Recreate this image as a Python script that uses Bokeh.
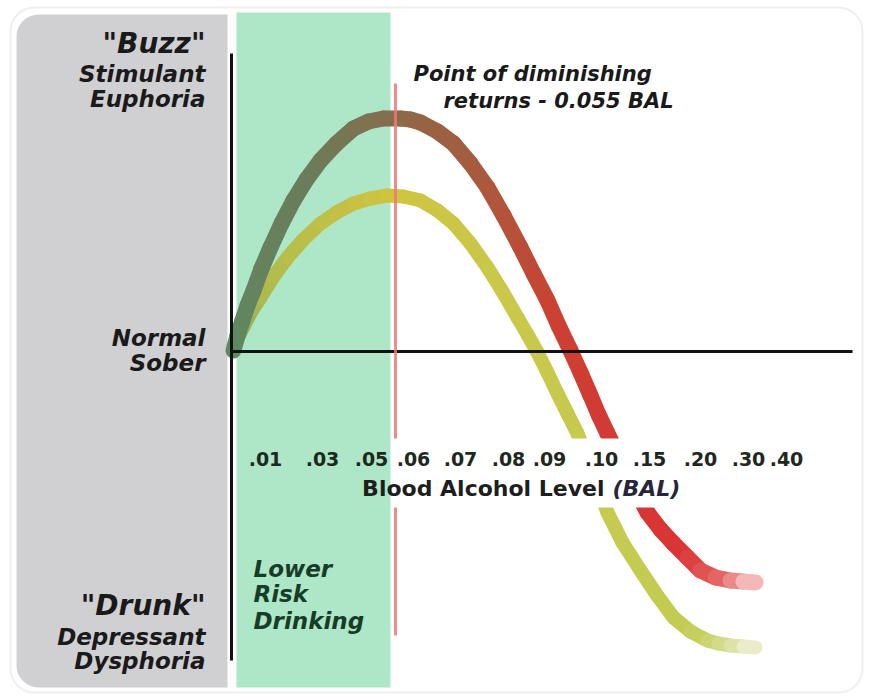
from bokeh.plotting import figure
from bokeh.models import Range1d, BoxAnnotation
from bokeh.core.properties import value
from bokeh.embed import file_html
from bokeh.resources import INLINE

# ---------------- data ----------------
# x: position along the BAL axis (arbitrary units), y: mood effect (0 = normal / sober)
upper_x = [1, 5, 10, 15, 21, 29, 38, 49, 61, 74, 88, 104, 121, 136, 151, 168, 178, 188, 205, 221,
           238, 255, 271, 288, 301, 315, 326, 338, 348, 358, 366, 375, 385, 395, 405, 415, 428,
           441, 455, 468, 483, 498, 511, 523]
upper_y = [1, 16, 31, 46, 61, 83, 104, 128, 151, 172, 191, 208, 223, 230, 233, 233, 232, 229, 220,
           208, 188, 164, 136, 104, 78, 51, 26, 1, -21, -44, -63, -82, -102, -122, -142, -161,
           -178, -192, -206, -219, -226, -229, -230, -231]

lower_x = [1, 6, 13, 20, 28, 41, 55, 71, 88, 104, 121, 138, 155, 171, 188, 205, 221, 238, 255, 270,
           285, 295, 305, 315, 325, 335, 345, 353, 360, 368, 375, 383, 390, 399, 408, 424, 441,
           458, 475, 486, 498, 511, 523]
lower_y = [1, 15, 29, 42, 54, 75, 94, 112, 128, 139, 148, 153, 156, 155, 151, 141, 128, 108, 84, 60,
           34, 17, -1, -21, -42, -62, -82, -102, -122, -142, -161, -177, -191, -205, -219, -243,
           -266, -280, -289, -292, -294, -295, -296]

tick_labels = [".01", ".03", ".05", ".06", ".07", ".08", ".09", ".10", ".15", ".20", ".30", ".40"]
tick_pos = [33, 90, 139, 181, 228, 276, 317, 369, 417, 468, 516, 554]

low_risk_start = 4        # lower-risk band
low_risk_end = 158
diminishing_x = 163       # 0.055 BAL
axis_end = 620

top_labels = ['"Buzz"', "Stimulant", "Euphoria"]
mid_labels = ["Normal", "Sober"]
bottom_labels = ['"Drunk"', "Depressant", "Dysphoria"]
zone_labels = ["Lower", "Risk", "Drinking"]
note_labels = ["Point of diminishing", "returns - 0.055 BAL"]
axis_title = ["Blood Alcohol Level", "(BAL)"]

# ---------------- helpers (styling only) ----------------
def hex2rgb(h):
    h = h.lstrip("#")
    return tuple(int(h[i:i + 2], 16) for i in (0, 2, 4))

def grad(stops, t):
    for (t0, c0), (t1, c1) in zip(stops[:-1], stops[1:]):
        if t0 <= t <= t1:
            f = 0 if t1 == t0 else (t - t0) / (t1 - t0)
            a, b = hex2rgb(c0), hex2rgb(c1)
            return "#%02x%02x%02x" % tuple(int(round(a[k] + (b[k] - a[k]) * f)) for k in range(3))
    return stops[-1][1]

upper_stops = [(0.0, "#5c8a62"), (0.22, "#6c7c5a"), (0.36, "#8a6b4a"), (0.48, "#a95a3e"),
               (0.6, "#cc4032"), (0.88, "#da3434"), (0.95, "#e66a6a"), (1.0, "#f8d0d0")]
lower_stops = [(0.0, "#8aa85c"), (0.12, "#b2bc4c"), (0.3, "#cfc440"), (0.45, "#c9c84a"),
               (0.88, "#c2cc52"), (0.95, "#d6dc92"), (1.0, "#f0f2d8")]

FONT = value("DejaVu Sans")
INK = "#1a1a1a"

p = figure(width=871, height=697, x_range=Range1d(-232, 639), y_range=Range1d(-346, 351),
           output_backend="svg", toolbar_location=None, min_border=0,
           x_axis_type=None, y_axis_type=None)
p.grid.visible = False
p.outline_line_color = None
p.background_fill_color = "white"
p.border_fill_color = "white"

# background panels
p.add_layout(BoxAnnotation(left=-222, right=630, top=344, bottom=-341,
                           fill_color=None, fill_alpha=0, line_color="#c9c9c9", line_width=2,
                           border_radius=24, level="underlay"))
p.add_layout(BoxAnnotation(left=-216, right=-5, top=337, bottom=-336,
                           fill_color="#d0d0d2", fill_alpha=1, line_color=None,
                           border_radius=(22, 0, 0, 22), level="underlay"))
p.add_layout(BoxAnnotation(left=low_risk_start, right=low_risk_end, top=339, bottom=-336,
                           fill_color="#ade7c7", fill_alpha=1, line_color=None, level="underlay"))

# curves
def draw_curve(xs, ys, stops, width):
    n = len(xs) - 1
    cols = [grad(stops, (i + 0.5) / n) for i in range(n)]
    p.segment(x0=xs[:-1], y0=ys[:-1], x1=xs[1:], y1=ys[1:], line_color=cols,
              line_width=width, line_cap="round")

draw_curve(lower_x, lower_y, lower_stops, 14)
draw_curve(upper_x, upper_y, upper_stops, 16)

# axes
p.segment(x0=[-1], y0=[298], x1=[-1], y1=[-309], line_color="#111111", line_width=3)
p.segment(x0=[-1], y0=[0], x1=[axis_end], y1=[0], line_color="#111111", line_width=3)

# point of diminishing returns
p.segment(x0=[diminishing_x], y0=[268], x1=[diminishing_x], y1=[-284],
          line_color="#f07878", line_alpha=0.85, line_width=3)

# white halo behind the tick labels
p.quad(left=[diminishing_x - 3], right=[axis_end], top=[-87], bottom=[-156],
       fill_color="white", line_color=None)

# tick labels and axis title
p.text(x=tick_pos, y=[-107] * len(tick_pos), text=tick_labels, text_font=FONT,
       text_font_style="bold", text_font_size="19px", text_align="center",
       text_baseline="middle", text_color="#1e281e")
p.text(x=[372], y=[-137], text=[axis_title[0]], text_font=FONT,
       text_font_style="bold", text_font_size="22px", text_align="right",
       text_baseline="middle", text_color="#1e1e1e")
p.text(x=[380], y=[-137], text=[axis_title[1]], text_font=FONT,
       text_font_style="bold italic", text_font_size="22px", text_align="left",
       text_baseline="middle", text_color="#26263a")

# side labels
side_x = -27
p.text(x=[side_x], y=[308], text=[top_labels[0]], text_font=FONT, text_font_style="bold italic",
       text_font_size="28px", text_align="right", text_baseline="middle", text_color=INK)
p.text(x=[side_x] * 2, y=[278, 253], text=top_labels[1:], text_font=FONT,
       text_font_style="bold italic", text_font_size="23px", text_align="right",
       text_baseline="middle", text_color=INK)
p.text(x=[side_x] * 2, y=[14, -11], text=mid_labels, text_font=FONT,
       text_font_style="bold italic", text_font_size="23px", text_align="right",
       text_baseline="middle", text_color=INK)
p.text(x=[side_x], y=[-254], text=[bottom_labels[0]], text_font=FONT, text_font_style="bold italic",
       text_font_size="28px", text_align="right", text_baseline="middle", text_color=INK)
p.text(x=[side_x] * 2, y=[-285, -309], text=bottom_labels[1:], text_font=FONT,
       text_font_style="bold italic", text_font_size="23px", text_align="right",
       text_baseline="middle", text_color=INK)

# zone label
p.text(x=[21] * 3, y=[-217, -242, -269], text=zone_labels, text_font=FONT,
       text_font_style="bold italic", text_font_size="23px", text_align="left",
       text_baseline="middle", text_color="#173d28")

# annotation
p.text(x=[181, 211], y=[278, 251], text=note_labels, text_font=FONT,
       text_font_style="bold italic", text_font_size="21px", text_align="left",
       text_baseline="middle", text_color=INK)

open("out.html", "w").write(file_html(p, INLINE))
